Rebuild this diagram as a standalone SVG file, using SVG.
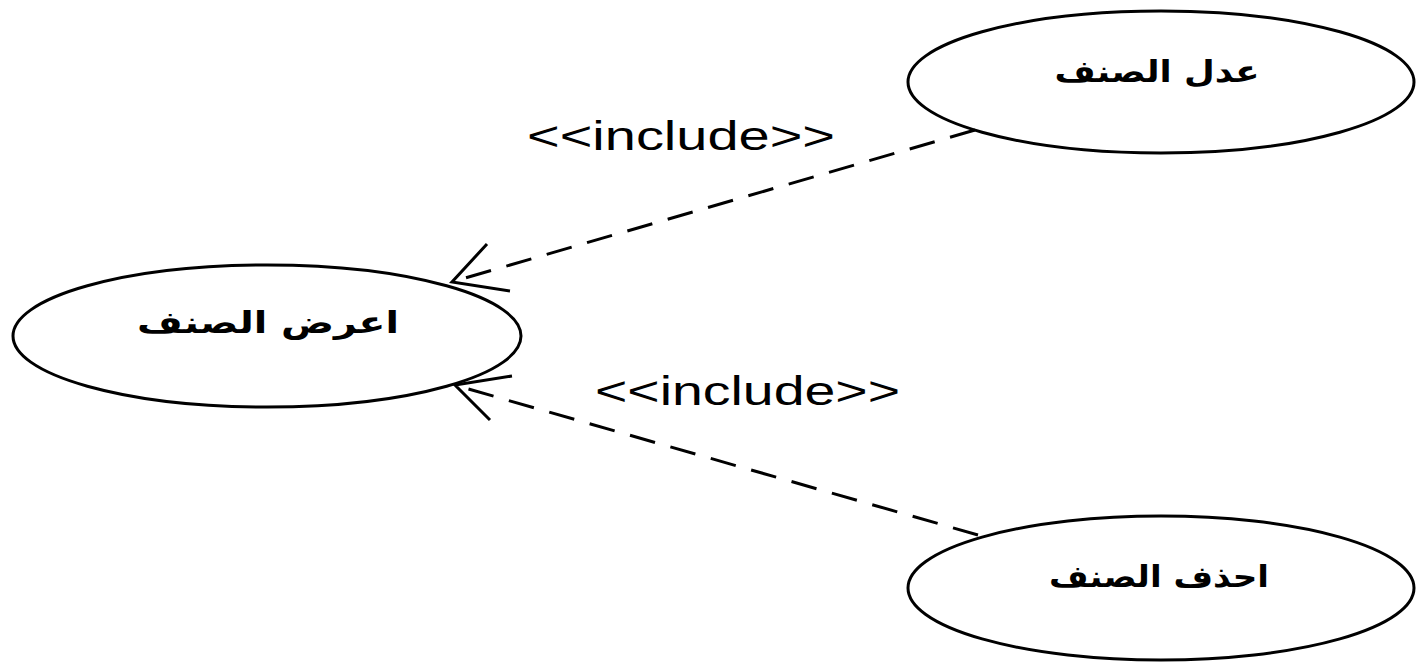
<svg xmlns="http://www.w3.org/2000/svg" width="1422" height="664" viewBox="0 0 1422 664">
  <style>
    .uc { fill: #ffffff; stroke: #000000; stroke-width: 3; }
    .name { font-family: "DejaVu Sans", "Noto Sans", sans-serif; font-size: 30px; font-weight: bold; fill: #000; text-anchor: middle; }
    .dep { fill: none; stroke: #000; stroke-width: 3; stroke-dasharray: 26 16; }
    .head { fill: none; stroke: #000; stroke-width: 3; }
    .stereo { font-family: "Liberation Sans", Arial, sans-serif; font-size: 40px; fill: #000; }
  </style>
  <rect width="1422" height="664" fill="#ffffff"/>

  <g id="edit-category">
    <ellipse class="uc" cx="1161" cy="82" rx="253" ry="71"/>
    <text class="name" x="1157" y="82" direction="rtl" textLength="205" lengthAdjust="spacingAndGlyphs">عدل الصنف</text>
  </g>

  <g id="view-category">
    <ellipse class="uc" cx="267" cy="336" rx="254" ry="71"/>
    <text class="name" x="268" y="333" direction="rtl" textLength="262" lengthAdjust="spacingAndGlyphs">اعرض الصنف</text>
  </g>

  <g id="delete-category">
    <ellipse class="uc" cx="1161" cy="588" rx="253" ry="72"/>
    <text class="name" x="1159" y="587" direction="rtl" textLength="220" lengthAdjust="spacingAndGlyphs">احذف الصنف</text>
  </g>

  <g id="connectors">
    <line class="dep" x1="975" y1="130" x2="455" y2="281"/>
    <polyline class="head" points="487,244 452,282 510,291"/>
    <text class="stereo" x="527" y="150" textLength="308" lengthAdjust="spacingAndGlyphs">&lt;&lt;include&gt;&gt;</text>

    <line class="dep" x1="978" y1="535" x2="458" y2="386"/>
    <polyline class="head" points="512,376 455,385 490,420"/>
    <text class="stereo" x="595" y="405" textLength="305" lengthAdjust="spacingAndGlyphs">&lt;&lt;include&gt;&gt;</text>
  </g>
</svg>
